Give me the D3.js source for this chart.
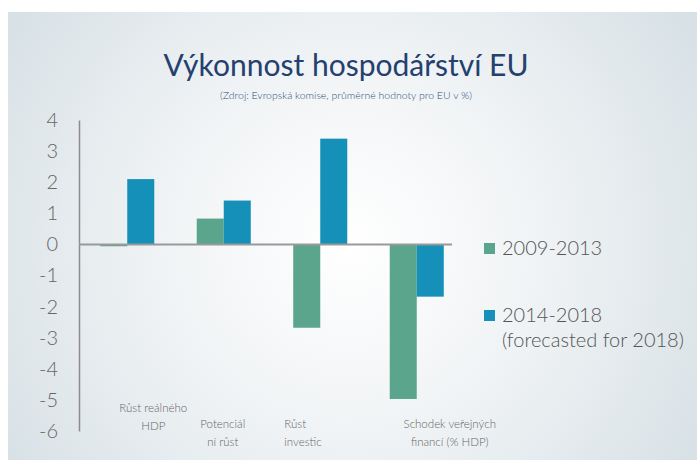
<!DOCTYPE html>
<html>
<head>
<meta charset="utf-8">
<script src="https://cdn.jsdelivr.net/npm/d3@7/dist/d3.min.js"></script>
<style>
  body { margin: 0; background: #fff; }
  svg { display: block; }
  text { font-family: Lato, "Open Sans", sans-serif; }
</style>
</head>
<body>
<script>
// data
var categories = ["rhdp", "pot", "inv", "schodek"];
var catLabels = [
  ["Růst reálného", "HDP"],
  ["Potenciál", "ní růst"],
  ["Růst", "investic"],
  ["Schodek veřejných", "financí (% HDP)"]
];
var series = ["2009-2013", "2014-2018"];
var values2009 = [-0.06, 0.83, -2.68, -4.97];
var values2014 = [2.1, 1.41, 3.4, -1.68];
var yTicks = [4, 3, 2, 1, 0, -1, -2, -3, -4, -5, -6];
var colors = ["#5ba58c", "#1590b9"];

var W = 697, H = 466;

var svg = d3.select("body").append("svg")
    .attr("width", W)
    .attr("height", H);

// background panel w/ soft radial glow
var defs = svg.append("defs");
var grad = defs.append("radialGradient")
    .attr("id", "bg")
    .attr("gradientUnits", "userSpaceOnUse")
    .attr("cx", 350).attr("cy", 245).attr("r", 420);
grad.append("stop").attr("offset", "0%").attr("stop-color", "#ffffff");
grad.append("stop").attr("offset", "45%").attr("stop-color", "#f0f3f5");
grad.append("stop").attr("offset", "100%").attr("stop-color", "#d6e0e5");

svg.append("rect")
    .attr("x", 8).attr("y", 12)
    .attr("width", W - 8).attr("height", 448)
    .attr("fill", "url(#bg)");

// title
svg.append("text")
    .attr("x", 346).attr("y", 76)
    .attr("text-anchor", "middle")
    .attr("font-size", 30)
    .attr("fill", "#24406e")
    .text("Výkonnost hospodářství EU");

svg.append("text")
    .attr("x", 346).attr("y", 99)
    .attr("text-anchor", "middle")
    .attr("font-size", 10.5)
    .attr("font-weight", 300)
    .attr("fill", "#2f4d7a")
    .text("(Zdroj: Evropská komise, průměrné hodnoty pro EU v %)");

// scales
var x0 = d3.scaleBand()
    .domain(categories)
    .range([79, 465])
    .paddingInner(0.44)
    .paddingOuter(0.22);

var x1 = d3.scaleBand()
    .domain(series)
    .range([0, x0.bandwidth()]);

var y = d3.scaleLinear()
    .domain([-6, 4])
    .range([431, 120]);

// y axis (plain hyphen like the original, not the unicode minus)
var yAxis = svg.append("g")
    .attr("transform", "translate(79,0)")
    .call(d3.axisLeft(y).tickValues(yTicks).tickSize(0).tickPadding(21)
      .tickFormat(function(d) { return String(d); }));
yAxis.select(".domain").attr("stroke", "#8c8c8c").attr("stroke-width", 1.5);
yAxis.selectAll("text")
    .attr("font-size", 20)
    .attr("font-weight", 300)
    .attr("fill", "#666")
    .attr("font-family", "Lato, sans-serif");

// bars
var rows = categories.map(function(c, i) {
  return { cat: c, vals: [values2009[i], values2014[i]] };
});

var groups = svg.selectAll(".grp")
    .data(rows)
  .enter().append("g")
    .attr("class", "grp")
    .attr("transform", function(d) { return "translate(" + x0(d.cat) + ",0)"; });

groups.selectAll("rect")
    .data(function(d) { return d.vals.map(function(v, j) { return { s: series[j], v: v, j: j }; }); })
  .enter().append("rect")
    .attr("x", function(d) { return x1(d.s); })
    .attr("width", x1.bandwidth())
    .attr("y", function(d) { return y(Math.max(0, d.v)); })
    .attr("height", function(d) { return Math.max(1.5, Math.abs(y(d.v) - y(0))); })
    .attr("fill", function(d) { return colors[d.j]; });

// zero line
svg.append("line")
    .attr("x1", 79).attr("x2", 452)
    .attr("y1", y(0)).attr("y2", y(0))
    .attr("stroke", "#999")
    .attr("stroke-width", 2);

// category labels (they sit a bit irregularly in the original)
var labelShift = [
  { dx: 26, dy: -16, anchor: "middle" },
  { dx: -1, dy: 0, anchor: "middle" },
  { dx: -36, dy: 0, anchor: "start" },
  { dx: 33, dy: 0, anchor: "middle" }
];
categories.forEach(function(c, i) {
  var cx = x0(c) + x0.bandwidth() / 2 + labelShift[i].dx;
  var t = svg.append("text")
      .attr("text-anchor", labelShift[i].anchor)
      .attr("font-size", 11.5)
      .attr("font-weight", 300)
      .attr("fill", "#666");
  catLabels[i].forEach(function(line, k) {
    t.append("tspan")
        .attr("x", cx)
        .attr("y", 428 + labelShift[i].dy + k * 18)
        .text(line);
  });
});

// legend
var legend = [
  { label: ["2009-2013"], y: 248 },
  { label: ["2014-2018", "(forecasted for 2018)"], y: 315 }
];
legend.forEach(function(l, i) {
  svg.append("rect")
      .attr("x", 484).attr("y", l.y - 5)
      .attr("width", 11).attr("height", 11)
      .attr("fill", colors[i]);
  l.label.forEach(function(s, k) {
    svg.append("text")
        .attr("x", 502).attr("y", l.y + 7 + k * 25)
        .attr("font-size", 20)
        .attr("font-weight", 300)
        .attr("fill", "#555")
        .text(s);
  });
});
</script>
</body>
</html>
